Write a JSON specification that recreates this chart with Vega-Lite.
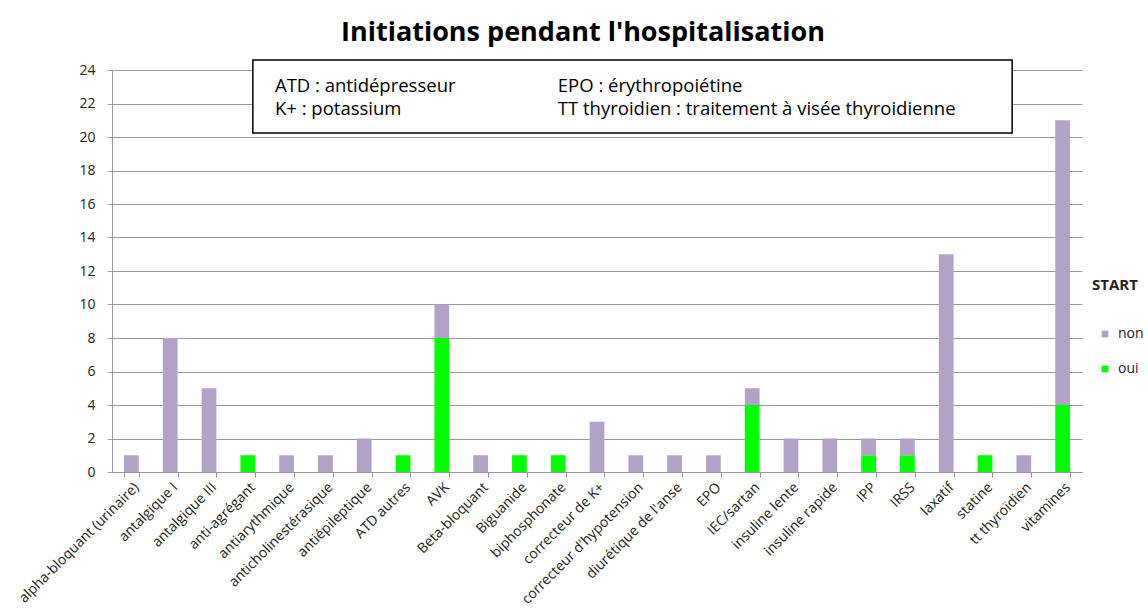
{
  "$schema": "https://vega.github.io/schema/vega-lite/v6.json",
  "width": 970,
  "height": 402,
  "autosize": {"type": "none"},
  "padding": {"left": 112, "top": 70, "right": 66, "bottom": 136},
  "background": "white",
  "config": {"view": {"stroke": null}, "font": "Open Sans"},
  "title": {
    "text": "Initiations pendant l'hospitalisation",
    "fontSize": 27,
    "fontWeight": "bold",
    "font": "Open Sans",
    "color": "#000000",
    "offset": 12,
    "anchor": "middle",
    "dx": -14
  },
  "layer": [
    {
      "data": {
        "values": [
          {"drug": "alpha-bloquant (urinaire)", "START": "non", "n": 1},
          {"drug": "antalgique I", "START": "non", "n": 8},
          {"drug": "antalgique III", "START": "non", "n": 5},
          {"drug": "anti-agrégant", "START": "oui", "n": 1},
          {"drug": "antiarythmique", "START": "non", "n": 1},
          {"drug": "anticholinestérasique", "START": "non", "n": 1},
          {"drug": "antiépileptique", "START": "non", "n": 2},
          {"drug": "ATD autres", "START": "oui", "n": 1},
          {"drug": "AVK", "START": "oui", "n": 8},
          {"drug": "AVK", "START": "non", "n": 2},
          {"drug": "Beta-bloquant", "START": "non", "n": 1},
          {"drug": "Biguanide", "START": "oui", "n": 1},
          {"drug": "biphosphonate", "START": "oui", "n": 1},
          {"drug": "correcteur de K+", "START": "non", "n": 3},
          {"drug": "correcteur d'hypotension", "START": "non", "n": 1},
          {"drug": "diurétique de l'anse", "START": "non", "n": 1},
          {"drug": "EPO", "START": "non", "n": 1},
          {"drug": "IEC/sartan", "START": "oui", "n": 4},
          {"drug": "IEC/sartan", "START": "non", "n": 1},
          {"drug": "insuline lente", "START": "non", "n": 2},
          {"drug": "insuline rapide", "START": "non", "n": 2},
          {"drug": "IPP", "START": "oui", "n": 1},
          {"drug": "IPP", "START": "non", "n": 1},
          {"drug": "IRSS", "START": "oui", "n": 1},
          {"drug": "IRSS", "START": "non", "n": 1},
          {"drug": "laxatif", "START": "non", "n": 13},
          {"drug": "statine", "START": "oui", "n": 1},
          {"drug": "tt thyroïdien", "START": "non", "n": 1},
          {"drug": "vitamines", "START": "oui", "n": 4},
          {"drug": "vitamines", "START": "non", "n": 17}
        ]
      },
      "mark": {"type": "bar"},
      "encoding": {
        "x": {
          "field": "drug",
          "type": "nominal",
          "scale": {
            "domain": ["alpha-bloquant (urinaire)", "antalgique I", "antalgique III", "anti-agrégant", "antiarythmique", "anticholinestérasique", "antiépileptique", "ATD autres", "AVK", "Beta-bloquant", "Biguanide", "biphosphonate", "correcteur de K+", "correcteur d'hypotension", "diurétique de l'anse", "EPO", "IEC/sartan", "insuline lente", "insuline rapide", "IPP", "IRSS", "laxatif", "statine", "tt thyroïdien", "vitamines"],
            "paddingInner": 0.62,
            "paddingOuter": 0.31
          },
          "axis": {
            "title": null,
            "tickBand": "extent",
            "labelAngle": -45,
            "labelAlign": "right",
            "labelBaseline": "top",
            "labelFontSize": 14,
            "labelFont": "Open Sans",
            "labelColor": "#222222",
            "labelPadding": 3,
            "tickSize": 5,
            "tickColor": "#999999",
            "domainColor": "#999999",
            "labelOverlap": false
          }
        },
        "y": {
          "field": "n",
          "type": "quantitative",
          "stack": "zero",
          "scale": {"domain": [0, 24], "nice": false},
          "axis": {
            "title": null,
            "values": [0, 2, 4, 6, 8, 10, 12, 14, 16, 18, 20, 22, 24],
            "labelOverlap": false,
            "grid": true,
            "gridColor": "#999999",
            "gridWidth": 1,
            "tickSize": 5,
            "tickColor": "#999999",
            "domainColor": "#999999",
            "labelFontSize": 14,
            "labelFont": "Open Sans",
            "labelColor": "#222222",
            "labelPadding": 12
          }
        },
        "color": {
          "field": "START",
          "type": "nominal",
          "scale": {"domain": ["non", "oui"], "range": ["#B3A2C7", "#00FF00"]},
          "legend": {
            "orient": "none",
            "legendX": 980,
            "legendY": 208,
            "title": "START",
            "titleFont": "Open Sans",
            "titleFontSize": 15,
            "titleFontWeight": "bold",
            "titleColor": "#222222",
            "titlePadding": 34,
            "labelFont": "Open Sans",
            "labelFontSize": 14,
            "labelColor": "#222222",
            "labelOffset": 6,
            "symbolOffset": 6,
            "symbolType": "square",
            "symbolSize": 45,
            "symbolStrokeWidth": 0,
            "rowPadding": 21
          }
        },
        "order": {"field": "START", "sort": "descending"}
      }
    },
    {
      "data": {"values": [{}]},
      "layer": [
        {
          "mark": {"type": "rect", "fill": "white", "stroke": "black", "strokeWidth": 1.5},
          "encoding": {
            "x": {"datum": 3.63, "type": "quantitative", "scale": {"domain": [0, 25], "nice": false, "zero": false}, "axis": null},
            "x2": {"datum": 23.2},
            "y": {"datum": 24.6, "type": "quantitative", "scale": {"domain": [0, 24], "nice": false}, "axis": null},
            "y2": {"datum": 20.24}
          }
        },
        {
          "mark": {"type": "text", "text": ["ATD : antidépresseur", "K+ : potassium"], "align": "left", "baseline": "alphabetic", "fontSize": 18.5, "font": "Open Sans", "lineHeight": 23, "color": "#000000"},
          "encoding": {
            "x": {"datum": 4.2, "type": "quantitative"},
            "y": {"datum": 22.69, "type": "quantitative"}
          }
        },
        {
          "mark": {"type": "text", "text": ["EPO : érythropoiétine", "TT thyroidien : traitement à visée thyroidienne"], "align": "left", "baseline": "alphabetic", "fontSize": 18.5, "font": "Open Sans", "lineHeight": 23, "color": "#000000"},
          "encoding": {
            "x": {"datum": 11.49, "type": "quantitative"},
            "y": {"datum": 22.69, "type": "quantitative"}
          }
        }
      ]
    }
  ],
  "resolve": {"scale": {"x": "independent", "y": "independent"}}
}
